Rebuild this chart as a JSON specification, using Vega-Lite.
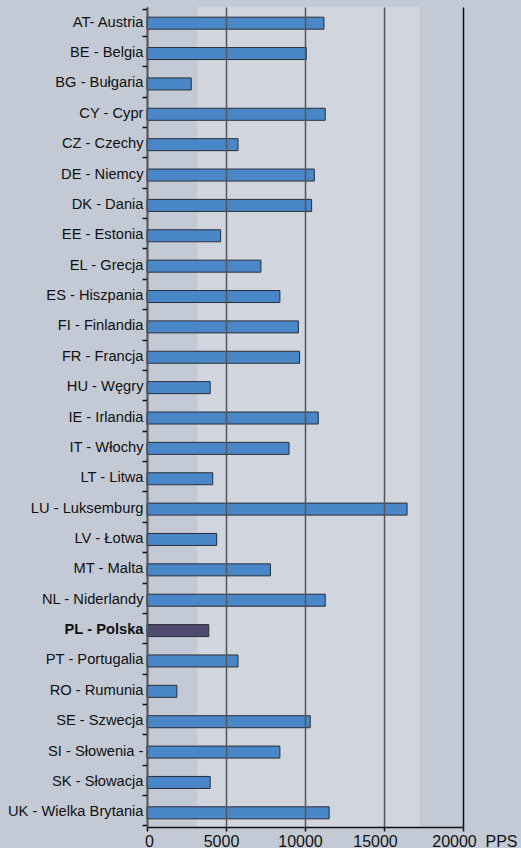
{
  "$schema": "https://vega.github.io/schema/vega-lite/v6.json",
  "width": 316,
  "height": 820,
  "autosize": {"type": "none"},
  "padding": {"left": 147, "top": 7, "right": 58, "bottom": 21},
  "background": "#c3cad5",
  "config": {"view": {"stroke": null}, "font": "Liberation Sans"},
  "datasets": {
    "band": [{"from": 3190, "to": 17260}],
    "bars": [
      {"country": "AT- Austria", "value": 11200},
      {"country": "BE - Belgia", "value": 10080},
      {"country": "BG - Bułgaria", "value": 2800},
      {"country": "CY - Cypr", "value": 11280},
      {"country": "CZ - Czechy", "value": 5760},
      {"country": "DE - Niemcy", "value": 10590},
      {"country": "DK - Dania", "value": 10420},
      {"country": "EE - Estonia", "value": 4660},
      {"country": "EL - Grecja", "value": 7210},
      {"country": "ES - Hiszpania", "value": 8410},
      {"country": "FI - Finlandia", "value": 9580},
      {"country": "FR - Francja", "value": 9660},
      {"country": "HU - Węgry", "value": 4000},
      {"country": "IE - Irlandia", "value": 10840},
      {"country": "IT - Włochy", "value": 8990},
      {"country": "LT - Litwa", "value": 4160},
      {"country": "LU - Luksemburg", "value": 16460},
      {"country": "LV - Łotwa", "value": 4410},
      {"country": "MT - Malta", "value": 7810},
      {"country": "NL - Niderlandy", "value": 11280},
      {"country": "PL - Polska", "value": 3910},
      {"country": "PT - Portugalia", "value": 5760},
      {"country": "RO - Rumunia", "value": 1890},
      {"country": "SE - Szwecja", "value": 10330},
      {"country": "SI - Słowenia -", "value": 8410},
      {"country": "SK - Słowacja", "value": 4000},
      {"country": "UK - Wielka Brytania", "value": 11530}
    ]
  },
  "layer": [
    {
      "data": {"name": "band"},
      "mark": {"type": "rect", "color": "#d1d5dd"},
      "encoding": {
        "x": {"field": "from", "type": "quantitative", "scale": {"domain": [0, 20000], "nice": false}},
        "x2": {"field": "to"}
      }
    },
    {
      "data": {"name": "bars"},
      "mark": {"type": "bar", "size": 12, "yOffset": 1, "stroke": "#2a2d38", "strokeWidth": 1},
      "encoding": {
        "y": {
          "field": "country", "type": "nominal", "sort": null,
          "axis": {
            "title": null, "tickBand": "extent", "tickSize": 5, "tickColor": "#111", "tickWidth": 1.5,
            "domainColor": "#111", "domainWidth": 1.5, "labelPadding": -1,
            "labelFontSize": 14.7, "labelColor": "#111", "labelLimit": 200,
            "labelFontWeight": {"condition": {"test": "datum.value === 'PL - Polska'", "value": "bold"}, "value": "normal"}
          }
        },
        "x": {
          "field": "value", "type": "quantitative",
          "scale": {"domain": [0, 20000], "nice": false},
          "axis": {
            "values": [0, 5000, 10000, 15000, 20000], "format": "d", "zindex": 1,
            "grid": true, "gridWidth": 1.5,
            "gridColor": {"condition": {"test": "datum.value === 20000", "value": "#111"}, "value": "#555"},
            "tickSize": 4, "tickColor": "#111", "tickWidth": 1.5, "domainColor": "#111", "domainWidth": 1.5,
            "labelFontSize": 16, "labelColor": "#111", "labelPadding": 2, "labelFlush": false,
            "labelOffset": {"condition": [{"test": "datum.value === 0", "value": 2}, {"test": "datum.value >= 15000", "value": -9}], "value": -5},
            "title": "PPS", "titleFontSize": 16, "titleFontWeight": "normal", "titleColor": "#111",
            "titleAlign": "left", "titleAnchor": "start", "titleX": 338, "titleY": 19, "titleBaseline": "alphabetic"
          }
        },
        "color": {"condition": {"test": "datum.country === 'PL - Polska'", "value": "#4f4a6e"}, "value": "#4a87c9"}
      }
    }
  ]
}
